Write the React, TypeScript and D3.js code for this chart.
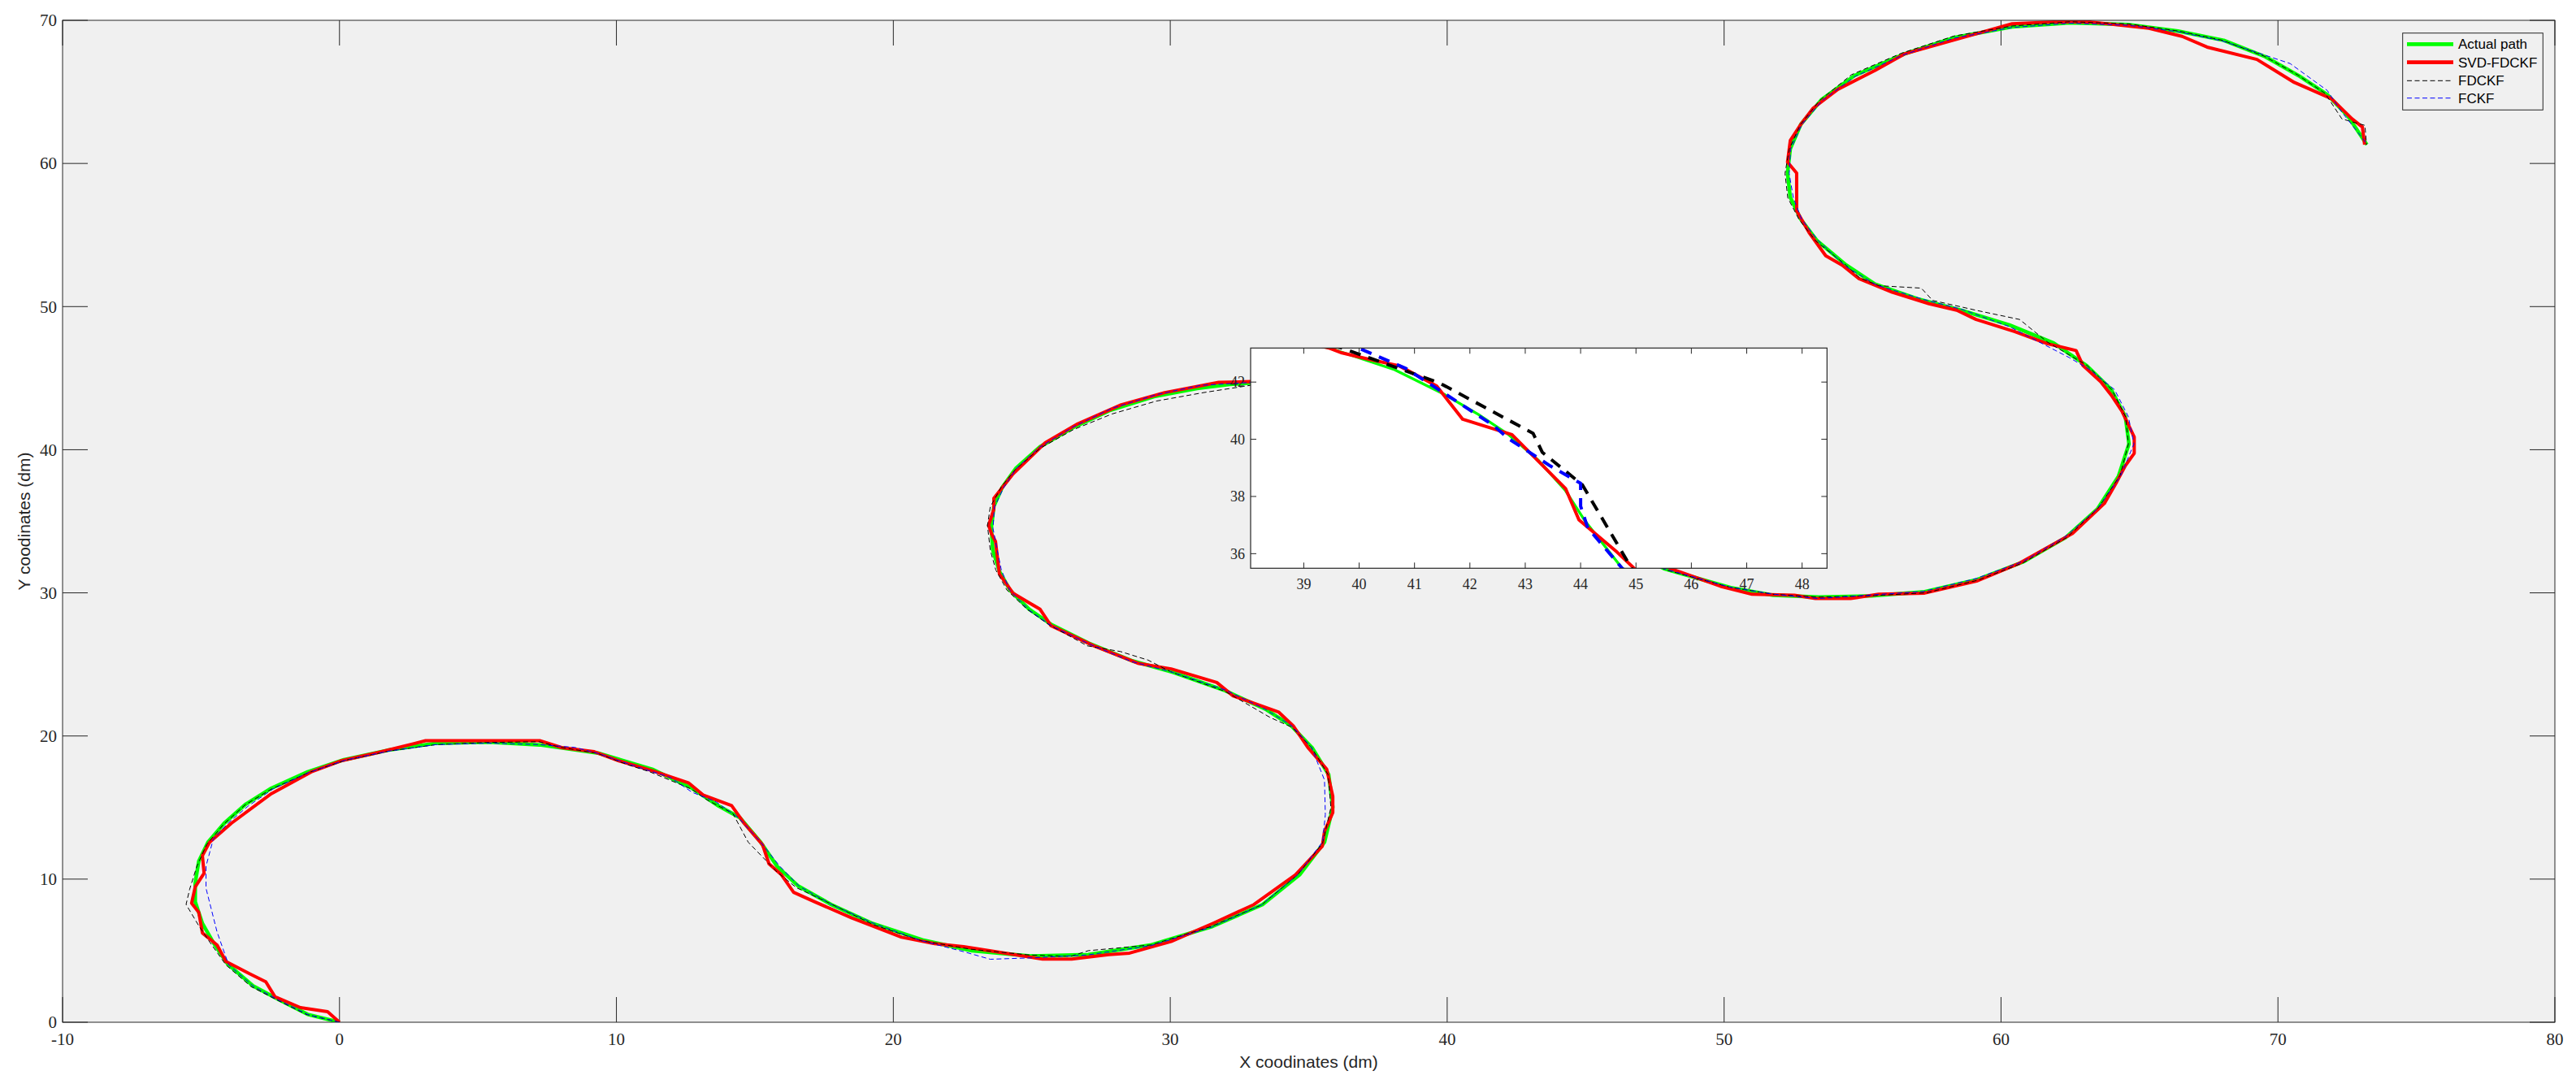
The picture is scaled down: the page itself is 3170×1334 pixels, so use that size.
import React from "react";
import * as d3 from "d3";

type Pt = [number, number];

// ---------- data ----------
const actualPath: Pt[] = [
  [0, 0], [-1.15, 0.55], [-2.2, 1.59], [-3.12, 2.54], [-4.03, 4.05], [-4.56, 5.58], [-4.95, 6.9],
  [-5.21, 8.42], [-5.21, 9.74], [-5.08, 11.26], [-4.75, 12.58], [-4.16, 13.91], [-3.38, 15.24],
  [-2.46, 16.35], [-1.15, 17.49], [0.16, 18.34], [1.73, 19.0], [3.43, 19.48], [5.4, 19.57],
  [7.23, 19.38], [9.33, 18.81], [11.29, 17.68], [12.73, 16.35], [13.7, 15.1], [14.46, 14.29], [15.21, 12.58],
  [15.81, 10.88], [16.55, 9.54], [17.76, 8.22], [19.25, 6.9], [21.05, 5.75], [22.84, 5.0],
  [24.94, 4.63], [27.04, 4.73], [29.28, 5.39], [31.53, 6.7], [33.33, 8.22], [34.67, 10.3],
  [35.57, 12.58], [35.87, 15.03], [35.72, 17.3], [35.12, 19.19], [34.37, 20.71], [33.47, 21.84],
  [31.98, 23.17], [30.1, 24.45], [28.63, 25.25], [27.06, 26.48], [25.69, 27.81], [24.91, 28.85],
  [24.22, 30.17], [23.83, 31.5], [23.59, 33.01], [23.54, 34.53], [23.63, 36.04], [23.93, 37.37],
  [24.42, 38.69], [25.3, 40.21], [26.47, 41.53], [27.84, 42.76], [29.41, 43.71], [30.97, 44.28],
  [32.15, 44.56], [32.91, 44.66], [34.8, 44.7], [36.9, 44.3], [39.46, 43.19], [40.64, 42.43],
  [41.53, 41.58], [42.15, 40.87], [42.7, 40.16], [43.24, 39.26], [43.72, 38.22], [44.07, 37.17],
  [44.75, 35.49], [46.0, 33.6], [47.83, 31.69], [50.24, 30.36], [51.77, 29.83], [53.42, 29.7],
  [55.33, 29.79], [57.24, 30.08], [59.15, 30.93], [60.8, 32.16], [62.33, 33.86], [63.48, 35.85],
  [64.24, 38.14], [64.62, 40.41], [64.49, 42.31], [63.98, 44.2], [63.09, 45.88], [61.9, 47.45],
  [60.3, 48.72], [58.6, 49.72], [57.0, 50.53], [55.45, 51.57], [54.41, 52.9], [53.36, 54.6],
  [52.77, 56.1], [52.39, 57.63], [52.29, 59.33], [52.39, 61.03], [52.77, 62.73], [53.51, 64.44],
  [54.71, 66.14], [56.51, 67.65], [58.3, 68.79], [60.4, 69.54], [62.49, 69.83], [64.59, 69.7],
  [66.39, 69.25], [68.04, 68.6], [69.54, 67.46], [70.74, 66.14], [71.78, 64.81], [72.53, 63.3],
  [73.21, 61.31],
];

const svdFdckf: Pt[] = [
  [0, 0], [-0.43, 0.74], [-1.41, 1.02], [-2.33, 1.78], [-2.66, 2.82], [-3.25, 3.39], [-4.1, 4.24],
  [-4.42, 5.39], [-4.95, 6.24], [-5.08, 7.67], [-5.34, 8.32], [-5.21, 9.46], [-4.89, 10.41],
  [-4.95, 11.64], [-4.69, 12.58], [-3.9, 13.91], [-2.46, 15.97], [-1.02, 17.49], [0.03, 18.25],
  [1.34, 18.82], [3.11, 19.67], [4.35, 19.67], [7.23, 19.67], [8.02, 19.19], [9.2, 18.9],
  [10.11, 18.25], [11.29, 17.58], [12.6, 16.73], [13.13, 15.88], [14.16, 15.14], [14.61, 13.91],
  [15.28, 12.39], [15.51, 11.07], [15.96, 10.3], [16.4, 9.08], [17.15, 8.42], [18.5, 7.29],
  [20.3, 5.94], [21.49, 5.49], [22.54, 5.28], [24.04, 4.83], [25.39, 4.41], [26.44, 4.41],
  [27.78, 4.73], [28.53, 4.83], [30.03, 5.64], [31.53, 6.9], [33.02, 8.22], [34.52, 10.3],
  [35.49, 12.3], [35.57, 13.34], [35.87, 14.65], [35.87, 15.79], [35.65, 17.68], [34.97, 19.19],
  [34.44, 20.71], [33.92, 21.66], [32.27, 22.8], [31.68, 23.74], [30.03, 24.69], [28.83, 25.08],
  [27.25, 26.29], [25.69, 27.71], [25.3, 28.85], [24.32, 29.98], [23.83, 31.32], [23.69, 33.58],
  [23.54, 34.15], [23.44, 34.72], [23.63, 35.85], [23.63, 36.61], [24.32, 38.31], [25.49, 40.49],
  [26.66, 41.81], [28.23, 43.14], [29.8, 43.99], [31.75, 44.71], [32.91, 44.76], [34.8, 44.75],
  [36.9, 44.35], [39.47, 43.18], [39.69, 43.02], [40.17, 42.8], [40.72, 42.57], [41.4, 41.86],
  [41.87, 40.7], [42.76, 40.16], [43.73, 38.27], [43.97, 37.18], [44.66, 36.05], [44.96, 35.5],
  [46.2, 33.5], [48.08, 31.69], [49.87, 30.46], [51.01, 29.9], [52.54, 29.83], [53.3, 29.6],
  [54.57, 29.6], [55.58, 29.9], [57.24, 29.98], [59.15, 30.84], [60.67, 32.07], [62.58, 34.15],
  [63.73, 36.24], [64.18, 37.76], [64.49, 38.89], [64.81, 39.75], [64.81, 40.88], [64.37, 42.68],
  [63.98, 43.82], [63.6, 44.75], [62.96, 45.88], [62.71, 46.93], [61.69, 47.4], [60.5, 48.25],
  [59.1, 49.1], [58.4, 49.75], [57.4, 50.2], [56.07, 51.0], [54.87, 51.95], [54.26, 52.9],
  [53.67, 53.55], [53.07, 55.17], [52.62, 56.68], [52.62, 59.33], [52.29, 60.09], [52.39, 61.6],
  [52.77, 62.73], [53.22, 63.87], [54.11, 65.18], [55.46, 66.51], [56.51, 67.65], [58.6, 68.79],
  [60.4, 69.76], [61.9, 69.88], [63.25, 69.88], [65.34, 69.45], [66.54, 68.88], [67.44, 68.13],
  [69.24, 67.27], [70.59, 65.66], [71.93, 64.53], [72.68, 63.11], [73.05, 62.54], [73.13, 61.31],
];

const fdckf: Pt[] = [
  [0, 0], [-1.2, 0.55], [-2.25, 1.55], [-3.2, 2.5], [-4.1, 4.0], [-4.65, 5.5], [-5.1, 6.8],
  [-5.54, 8.23], [-5.41, 9.3], [-5.15, 10.9], [-4.8, 12.4], [-4.2, 13.8], [-3.4, 15.2],
  [-2.45, 16.3], [-1.1, 17.45], [0.2, 18.3], [1.8, 18.95], [3.5, 19.4], [5.4, 19.55], [7.2, 19.6],
  [8.0, 19.2], [9.3, 18.8], [10.4, 18.0], [11.2, 17.5], [12.7, 16.3], [13.3, 15.5], [14.2, 14.6],
  [14.76, 12.58], [15.3, 11.5], [15.8, 10.5], [16.5, 9.4], [17.5, 8.5], [18.2, 7.84], [19.3, 6.8],
  [21.0, 5.7], [22.8, 5.1], [24.9, 4.7], [26.4, 4.6], [27.04, 5.0], [29.3, 5.4], [31.5, 6.7],
  [33.3, 8.2], [34.6, 10.3], [35.5, 12.5], [35.8, 15.0], [35.7, 17.3], [35.1, 19.2], [34.4, 20.6],
  [33.6, 21.3], [32.0, 23.1], [30.0, 24.5], [29.2, 25.3], [28.2, 25.9], [27.0, 26.3], [25.6, 27.8],
  [24.8, 28.9], [24.1, 30.2], [23.7, 31.6], [23.5, 33.0], [23.4, 34.7], [23.5, 36.0], [23.9, 37.4],
  [24.4, 38.6], [25.3, 40.1], [26.5, 41.4], [27.9, 42.5], [29.5, 43.4], [31.2, 43.99], [32.9, 44.5],
  [34.8, 44.6], [36.9, 44.4], [39.69, 43.19], [40.64, 42.53], [41.46, 41.96], [43.14, 40.21],
  [43.31, 39.54], [44.03, 38.41], [44.92, 35.49], [45.7, 33.6], [47.9, 31.6], [50.2, 30.4],
  [51.8, 29.9], [53.4, 29.7], [55.3, 29.8], [57.3, 30.0], [59.2, 30.9], [60.8, 32.1], [62.4, 33.9],
  [63.5, 35.9], [64.3, 38.2], [64.6, 40.4], [64.5, 42.3], [64.0, 44.2], [63.1, 45.9], [61.69, 47.5],
  [60.67, 49.1], [59.15, 49.72], [57.53, 50.43], [57.12, 51.29], [55.58, 51.46], [54.9, 52.0],
  [54.4, 52.9], [53.3, 54.6], [52.7, 56.1], [52.3, 57.6], [52.2, 59.3], [52.35, 61.0], [52.75, 62.7],
  [53.45, 64.4], [54.6, 66.2], [56.4, 67.7], [58.3, 68.9], [60.4, 69.6], [62.5, 69.9], [64.6, 69.75],
  [66.4, 69.25], [68.0, 68.6], [69.5, 67.5], [70.7, 66.2], [71.7, 64.9], [72.31, 63.11],
  [73.14, 62.66], [73.2, 61.3],
];

const fckf: Pt[] = [
  [0, 0], [-1.1, 0.5], [-2.15, 1.5], [-3.1, 2.5], [-4.0, 4.0], [-4.42, 6.3], [-4.82, 9.36],
  [-4.82, 10.9], [-4.56, 12.78], [-4.03, 13.9], [-3.3, 15.1], [-2.4, 16.3], [-1.1, 17.45],
  [0.2, 18.3], [1.8, 18.95], [3.5, 19.4], [5.4, 19.5], [7.2, 19.4], [8.5, 19.2], [9.3, 18.8],
  [10.5, 18.0], [11.95, 17.1], [12.73, 16.07], [13.6, 15.4], [14.4, 14.3], [15.2, 12.6],
  [15.9, 10.9], [16.6, 9.5], [17.8, 8.2], [19.3, 6.9], [21.0, 5.7], [22.54, 4.93], [23.5, 4.4],
  [25.0, 4.5], [27.0, 4.7], [29.3, 5.35], [31.5, 6.65], [33.3, 8.2], [34.6, 10.3], [35.5, 12.6],
  [35.6, 14.5], [35.57, 16.92], [35.1, 19.2], [34.4, 20.7], [33.4, 21.9], [32.0, 23.2], [30.0, 24.5],
  [28.6, 25.2], [27.1, 26.4], [25.7, 27.7], [24.9, 28.8], [24.2, 30.2], [23.9, 31.6], [23.75, 33.0],
  [23.6, 34.5], [23.65, 36.0], [24.0, 37.4], [24.45, 38.7], [25.3, 40.2], [26.5, 41.6], [27.9, 42.9],
  [29.5, 43.85], [31.1, 44.5], [32.9, 44.7], [34.8, 44.8], [37.2, 44.4], [39.99, 43.19],
  [40.85, 42.47], [41.6, 41.53], [42.42, 40.49], [42.7, 40.02], [43.45, 39.07], [44.0, 38.46],
  [44.0, 37.66], [44.13, 36.9], [44.75, 35.49], [46.0, 33.6], [47.8, 31.7], [50.2, 30.4],
  [51.8, 29.9], [53.4, 29.6], [55.3, 29.85], [57.2, 30.1], [59.1, 31.0], [60.8, 32.2], [62.3, 33.9],
  [63.5, 35.9], [64.3, 38.1], [64.8, 40.4], [64.6, 42.3], [64.1, 44.2], [63.2, 45.6], [62.46, 46.44],
  [61.6, 47.3], [60.3, 48.6], [58.6, 49.8], [57.2, 50.5], [55.5, 51.5], [54.4, 52.8], [53.4, 54.6],
  [52.8, 56.1], [52.5, 57.6], [52.35, 59.3], [52.4, 61.0], [52.8, 62.7], [53.55, 64.4],
  [54.75, 66.1], [56.5, 67.6], [58.3, 68.75], [60.4, 69.5], [62.5, 69.8], [64.6, 69.65],
  [66.4, 69.2], [68.0, 68.55], [70.44, 66.98], [71.78, 65.1], [72.3, 63.6], [73.2, 61.4],
];

const seriesNames = ["Actual path", "SVD-FDCKF", "FDCKF", "FCKF"];
const seriesData: Pt[][] = [actualPath, svdFdckf, fdckf, fckf];

const xTicks = [-10, 0, 10, 20, 30, 40, 50, 60, 70, 80];
const yTicks = [0, 10, 20, 30, 40, 50, 60, 70];
const insetXTicks = [39, 40, 41, 42, 43, 44, 45, 46, 47, 48];
const insetYTicks = [36, 38, 40, 42];

const xLabel = "X coodinates (dm)";
const yLabel = "Y coodinates (dm)";

// ---------- styles ----------
const styles = [
  { color: "#00ff00", w: 4.5, dash: "", iw: 3.3, idash: "" },
  { color: "#ff0000", w: 4, dash: "", iw: 4, idash: "" },
  { color: "#000000", w: 1, dash: "6,3.5", iw: 4, idash: "14,10" },
  { color: "#0000ff", w: 1, dash: "6,3.5", iw: 4, idash: "14,10" },
];

const AX = "#262626";
const SANS = "'Liberation Sans', Arial, Helvetica, sans-serif";
const SERIF = "'Liberation Serif', 'Times New Roman', serif";

export default function App() {
  const W = 3170, H = 1334;
  const L = 77, R = 3144, T = 25, B = 1258;
  const x = d3.scaleLinear().domain([-10, 80]).range([L, R]);
  const y = d3.scaleLinear().domain([0, 70]).range([B, T]);

  const iL = 1539, iR = 2248.3, iT = 428.3, iB = 699.3;
  const ix = d3.scaleLinear().domain([38.04, 48.45]).range([iL, iR]);
  const iy = d3.scaleLinear().domain([35.49, 43.19]).range([iB, iT]);

  const line = d3.line<Pt>().x((d) => x(d[0])).y((d) => y(d[1]));
  const iline = d3.line<Pt>().x((d) => ix(d[0])).y((d) => iy(d[1]));

  const tickLen = 31;
  const iTick = 7;

  const legX = 2956.7, legY = 40.7, legW = 172.6, legH = 94.6;
  const legRows = [54.3, 76.7, 99.3, 120.7];

  return (
    <svg
      width={W}
      height={H}
      style={{ position: "absolute", left: 0, top: 0, display: "block" }}
      xmlns="http://www.w3.org/2000/svg"
    >
      <defs>
        <clipPath id="mainClip">
          <rect x={L} y={T} width={R - L} height={B - T} />
        </clipPath>
        <clipPath id="insetClip">
          <rect x={iL} y={iT} width={iR - iL} height={iB - iT} />
        </clipPath>
      </defs>
      <rect x={0} y={0} width={W} height={H} fill="#ffffff" />
      <rect x={L} y={T} width={R - L} height={B - T} fill="#f0f0f0" />

      {/* main ticks */}
      {xTicks.map((t) => (
        <g key={"xt" + t}>
          <line x1={x(t)} x2={x(t)} y1={B} y2={B - tickLen} stroke={AX} strokeWidth={1} />
          <line x1={x(t)} x2={x(t)} y1={T} y2={T + tickLen} stroke={AX} strokeWidth={1} />
          <text x={x(t)} y={1286} textAnchor="middle" fontFamily={SERIF} fontSize={21} fill={AX}>
            {t}
          </text>
        </g>
      ))}
      {yTicks.map((t) => (
        <g key={"yt" + t}>
          <line x1={L} x2={L + tickLen} y1={y(t)} y2={y(t)} stroke={AX} strokeWidth={1} />
          <line x1={R} x2={R - tickLen} y1={y(t)} y2={y(t)} stroke={AX} strokeWidth={1} />
          <text x={70} y={y(t)} dy="0.35em" textAnchor="end" fontFamily={SERIF} fontSize={21} fill={AX}>
            {t}
          </text>
        </g>
      ))}

      {/* main series */}
      <g clipPath="url(#mainClip)">
        {seriesData.map((d, i) => (
          <path
            key={"s" + i}
            d={line(d) || ""}
            fill="none"
            stroke={styles[i].color}
            strokeWidth={styles[i].w}
            strokeDasharray={styles[i].dash || undefined}
            strokeLinejoin="round"
          />
        ))}
      </g>
      <rect x={L} y={T} width={R - L} height={B - T} fill="none" stroke={AX} strokeWidth={1} />

      {/* axis labels */}
      <text x={(L + R) / 2} y={1314} textAnchor="middle" fontFamily={SANS} fontSize={21} fill={AX}>
        {xLabel}
      </text>
      <text
        transform={`translate(37,${(T + B) / 2}) rotate(-90)`}
        textAnchor="middle"
        fontFamily={SANS}
        fontSize={21}
        fill={AX}
      >
        {yLabel}
      </text>

      {/* legend */}
      <rect x={legX} y={legY} width={legW} height={legH} fill="#f0f0f0" stroke={AX} strokeWidth={1} />
      {seriesNames.map((n, i) => (
        <g key={"lg" + i}>
          <line
            x1={2962}
            x2={3019}
            y1={legRows[i]}
            y2={legRows[i]}
            stroke={styles[i].color}
            strokeWidth={i < 2 ? 4.7 : 1}
            strokeDasharray={styles[i].dash || undefined}
          />
          <text x={3025} y={legRows[i]} dy="0.36em" fontFamily={SANS} fontSize={17} fill="#000">
            {n}
          </text>
        </g>
      ))}

      {/* inset */}
      <rect x={iL} y={iT} width={iR - iL} height={iB - iT} fill="#ffffff" />
      <g clipPath="url(#insetClip)">
        {seriesData.map((d, i) => (
          <path
            key={"is" + i}
            d={iline(d) || ""}
            fill="none"
            stroke={styles[i].color}
            strokeWidth={styles[i].iw}
            strokeDasharray={styles[i].idash || undefined}
            strokeLinejoin="round"
          />
        ))}
      </g>
      {insetXTicks.map((t) => (
        <g key={"ixt" + t}>
          <line x1={ix(t)} x2={ix(t)} y1={iB} y2={iB - iTick} stroke={AX} strokeWidth={1} />
          <line x1={ix(t)} x2={ix(t)} y1={iT} y2={iT + iTick} stroke={AX} strokeWidth={1} />
          <text x={ix(t)} y={725} textAnchor="middle" fontFamily={SERIF} fontSize={18} fill={AX}>
            {t}
          </text>
        </g>
      ))}
      {insetYTicks.map((t) => (
        <g key={"iyt" + t}>
          <line x1={iL} x2={iL + iTick} y1={iy(t)} y2={iy(t)} stroke={AX} strokeWidth={1} />
          <line x1={iR} x2={iR - iTick} y1={iy(t)} y2={iy(t)} stroke={AX} strokeWidth={1} />
          <text x={1532} y={iy(t)} dy="0.35em" textAnchor="end" fontFamily={SERIF} fontSize={18} fill={AX}>
            {t}
          </text>
        </g>
      ))}
      <rect x={iL} y={iT} width={iR - iL} height={iB - iT} fill="none" stroke={AX} strokeWidth={1.2} />
    </svg>
  );
}
